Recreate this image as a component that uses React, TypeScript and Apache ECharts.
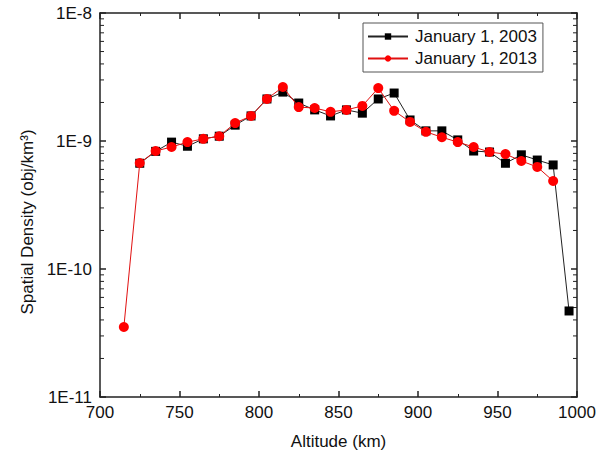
import React, { useEffect, useRef } from "react";
import * as echarts from "echarts";

const altitudes2003 = [725, 735, 745, 755, 765, 775, 785, 795, 805, 815, 825, 835, 845, 855, 865, 875, 885, 895, 905, 915, 925, 935, 945, 955, 965, 975, 985, 995];
const density2003 = [6.7e-10, 8.3e-10, 9.8e-10, 9.1e-10, 1.04e-9, 1.09e-9, 1.33e-9, 1.57e-9, 2.13e-9, 2.41e-9, 1.98e-9, 1.75e-9, 1.57e-9, 1.75e-9, 1.65e-9, 2.13e-9, 2.37e-9, 1.46e-9, 1.2e-9, 1.2e-9, 1.02e-9, 8.35e-10, 8.2e-10, 6.7e-10, 7.8e-10, 7.1e-10, 6.5e-10, 4.7e-11];

const altitudes2013 = [715, 725, 735, 745, 755, 765, 775, 785, 795, 805, 815, 825, 835, 845, 855, 865, 875, 885, 895, 905, 915, 925, 935, 945, 955, 965, 975, 985];
const density2013 = [3.52e-11, 6.73e-10, 8.35e-10, 8.98e-10, 9.8e-10, 1.04e-9, 1.09e-9, 1.38e-9, 1.57e-9, 2.13e-9, 2.64e-9, 1.84e-9, 1.81e-9, 1.69e-9, 1.75e-9, 1.88e-9, 2.59e-9, 1.72e-9, 1.41e-9, 1.18e-9, 1.07e-9, 9.8e-10, 8.98e-10, 8.2e-10, 7.9e-10, 6.98e-10, 6.27e-10, 4.87e-10];

const seriesNames = ["January 1, 2003", "January 1, 2013"];
const xMin = 700;
const xMax = 1000;
const xInterval = 50;
const yMin = 1e-11;
const yMax = 1e-8;
const decadeExponents = [-11, -10, -9];
const minorMultipliers = [2, 3, 4, 5, 6, 7, 8, 9];

const FONT = "'Liberation Sans', Arial, sans-serif";

export default function App() {
  const ref = useRef<HTMLDivElement>(null);
  useEffect(() => {
    document.body.style.margin = "0";
    const chart = echarts.init(ref.current!, null, { renderer: "svg" });
    const minorTickData: number[][] = [];
    decadeExponents.forEach((e) =>
      minorMultipliers.forEach((m) => minorTickData.push([xMin, m * Math.pow(10, e)]))
    );
    const axisLine = { show: true, lineStyle: { color: "#222", width: 1.5 } };
    const xCommon = {
      type: "value" as const,
      min: xMin,
      max: xMax,
      interval: xInterval,
      axisLine,
      axisTick: { show: true, inside: true, length: 6, lineStyle: { color: "#222", width: 1.5 } },
      minorTick: { show: true, splitNumber: 2, length: 3, lineStyle: { color: "#222", width: 1 } },
      splitLine: { show: false },
    };
    const yCommon = {
      type: "log" as const,
      logBase: 10,
      min: yMin,
      max: yMax,
      axisLine,
      axisTick: { show: true, inside: true, length: 6, lineStyle: { color: "#222", width: 1.5 } },
      minorTick: { show: false },
      splitLine: { show: false },
    };
    chart.setOption({
      animation: false,
      backgroundColor: "#fff",
      grid: { left: 100, right: 29, top: 13, bottom: 61, containLabel: false },
      legend: {
        data: seriesNames,
        left: 363,
        top: 23,
        orient: "vertical",
        backgroundColor: "#fff",
        borderColor: "#555",
        borderWidth: 1,
        borderRadius: 0,
        padding: [5, 6, 5, 4],
        itemGap: 5,
        itemWidth: 40,
        itemHeight: 8,
        textStyle: { fontFamily: FONT, fontSize: 17, color: "#111", padding: [0, 0, 0, 2] },
      },
      xAxis: [
        {
          ...xCommon,
          position: "bottom",
          name: "Altitude (km)",
          nameLocation: "middle",
          nameGap: 36,
          nameTextStyle: { fontFamily: FONT, fontSize: 17, color: "#111" },
          axisLabel: {
            fontFamily: FONT,
            fontSize: 17,
            color: "#111",
            margin: 7,
            formatter: (v: number) => String(v),
          },
        },
        { ...xCommon, position: "top", axisLabel: { show: false } },
      ],
      yAxis: [
        {
          ...yCommon,
          position: "left",
          name: "Spatial Density (obj/km³)",
          nameLocation: "middle",
          nameGap: 61,
          nameTextStyle: { fontFamily: FONT, fontSize: 17, color: "#111", padding: [0, 34, 0, 0] },
          axisLabel: {
            fontFamily: FONT,
            fontSize: 17,
            color: "#111",
            margin: 8,
            formatter: (v: number) => "1E" + Math.round(Math.log10(v)),
          },
        },
        { ...yCommon, position: "right", axisLabel: { show: false } },
      ],
      series: [
        {
          type: "custom",
          silent: true,
          xAxisIndex: 0,
          yAxisIndex: 0,
          clip: false,
          data: minorTickData,
          renderItem: (params: any, api: any) => {
            const v = api.value(1);
            const pl = api.coord([xMin, v]);
            const pr = api.coord([xMax, v]);
            return {
              type: "group",
              children: [
                { type: "line", shape: { x1: pl[0], y1: pl[1], x2: pl[0] + 4, y2: pl[1] }, style: { stroke: "#222", lineWidth: 1 } },
                { type: "line", shape: { x1: pr[0], y1: pr[1], x2: pr[0] - 4, y2: pr[1] }, style: { stroke: "#222", lineWidth: 1 } },
              ],
            };
          },
        },
        {
          name: seriesNames[0],
          type: "line",
          data: altitudes2003.map((a, i) => [a, density2003[i]]),
          symbol: "rect",
          symbolSize: 9,
          itemStyle: { color: "#000" },
          lineStyle: { color: "#222", width: 1 },
          z: 3,
        },
        {
          name: seriesNames[1],
          type: "line",
          data: altitudes2013.map((a, i) => [a, density2013[i]]),
          symbol: "circle",
          symbolSize: 10,
          itemStyle: { color: "#f00" },
          lineStyle: { color: "#e01010", width: 1 },
          z: 4,
        },
      ],
    });
    return () => chart.dispose();
  }, []);
  return <div ref={ref} style={{ width: 606, height: 458 }} />;
}
